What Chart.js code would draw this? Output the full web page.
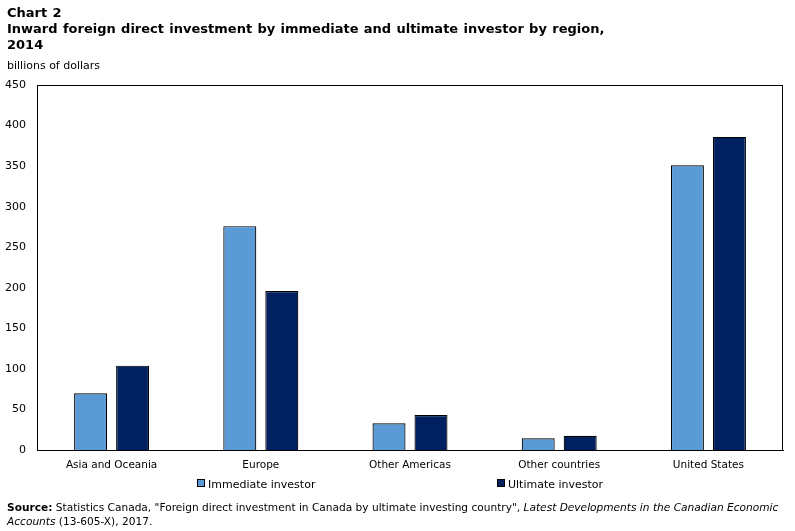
<!DOCTYPE html>
<html>
<head>
<meta charset="utf-8">
<script src="https://cdn.jsdelivr.net/npm/chart.js@4.4.1/dist/chart.umd.min.js"></script>
<style>
  html, body { margin: 0; padding: 0; background: #fff; }
  #wrap { position: relative; width: 795px; height: 531px; overflow: hidden; font-family: "DejaVu Sans", Verdana, sans-serif; color: #000; }
  #chart { position: absolute; left: 0; top: 0; }
  .title { position: absolute; left: 7px; top: 5px; font-weight: bold; font-size: 13px; line-height: 16px; word-spacing: 0.8px; }
  .unit { position: absolute; left: 7px; top: 59px; font-size: 11px; }
  .legend { position: absolute; top: 478px; font-size: 11px; line-height: 14px; white-space: nowrap; }
  .legend span.box { display: inline-block; width: 6px; height: 6px; border: 1px solid #000; margin-right: 3px; vertical-align: 1px; }
  .source { position: absolute; left: 7px; top: 500px; font-size: 10.6px; line-height: 14px; white-space: nowrap; }
</style>
</head>
<body>
<div id="wrap">
  <canvas id="chart" width="795" height="531"></canvas>
  <div class="title">Chart 2<br>Inward foreign direct investment by immediate and ultimate investor by region,<br>2014</div>
  <div class="unit">billions of dollars</div>
  <div id="legend"></div>
  <div class="source"><b>Source:</b> Statistics Canada, "Foreign direct investment in Canada by ultimate investing country", <i>Latest Developments in the Canadian Economic</i><br><i>Accounts</i> (13-605-X), 2017.</div>
</div>
<script>
const categories = ["Asia and Oceania", "Europe", "Other Americas", "Other countries", "United States"];
const seriesNames = ["Immediate investor", "Ultimate investor"];
const immediateValues = [70, 276, 33, 14.5, 351];
const ultimateValues = [104, 196, 43, 17.5, 386];
const yTicks = [0, 50, 100, 150, 200, 250, 300, 350, 400, 450];
const seriesColors = ["#5b9bd5", "#002060"];
const legendLeft = [197, 497];

const frame = {
  id: 'frame',
  afterDatasetsDraw(chart) {
    const a = chart.chartArea, ctx = chart.ctx;
    ctx.save();
    ctx.strokeStyle = '#000';
    ctx.lineWidth = 1;
    ctx.strokeRect(Math.round(a.left) + 0.5, Math.round(a.top) + 0.5, Math.round(a.right - a.left) - 1, Math.round(a.bottom - a.top));
    ctx.restore();
  }
};

const chart = new Chart(document.getElementById('chart'), {
  type: 'bar',
  data: {
    labels: categories,
    datasets: [
      { label: seriesNames[0], data: immediateValues, backgroundColor: seriesColors[0], borderColor: '#000', borderWidth: 1.2, categoryPercentage: 0.563, barPercentage: 0.786 },
      { label: seriesNames[1], data: ultimateValues, backgroundColor: seriesColors[1], borderColor: '#000', borderWidth: 1.2, categoryPercentage: 0.563, barPercentage: 0.786 }
    ]
  },
  options: {
    responsive: false,
    animation: false,
    layout: { padding: { top: 85, right: 12, bottom: 56, left: 0 } },
    plugins: { legend: { display: false }, tooltip: { enabled: false }, title: { display: false } },
    scales: {
      x: {
        grid: { display: false, drawTicks: false, tickLength: 0 },
        border: { display: true, color: '#000', width: 1 },
        ticks: { color: '#000', font: { family: 'DejaVu Sans', size: 10.5 }, padding: 9, maxRotation: 0 },
        afterFit(s) { s.height = 25; }
      },
      y: {
        min: 0, max: 450,
        afterBuildTicks(s) { s.ticks = yTicks.map(v => ({ value: v })); },
        grid: { display: false, drawTicks: false, tickLength: 0 },
        border: { display: true, color: '#000', width: 1 },
        ticks: { color: '#000', font: { family: 'DejaVu Sans', size: 11 }, padding: 11 },
        afterFit(s) { s.width = 37; }
      }
    }
  },
  plugins: [frame]
});

const lg = document.getElementById('legend');
seriesNames.forEach((n, i) => {
  const d = document.createElement('div');
  d.className = 'legend';
  d.style.left = legendLeft[i] + 'px';
  d.innerHTML = '<span class="box" style="background:' + seriesColors[i] + '"></span>' + n;
  lg.appendChild(d);
});
</script>
</body>
</html>
